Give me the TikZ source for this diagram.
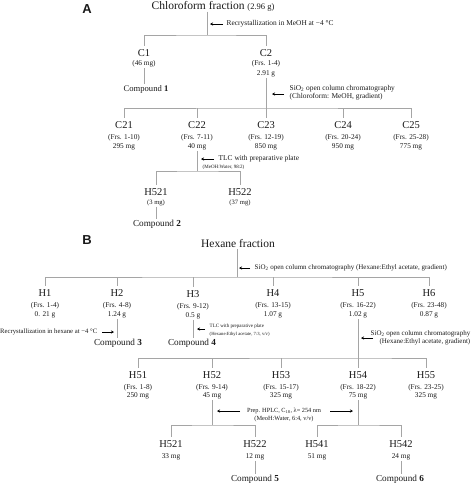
\documentclass[tikz,border=0pt]{standalone}
\usepackage{fontspec}
\setmainfont{Liberation Serif}
\newfontfamily\labfont{Liberation Sans}
\usetikzlibrary{arrows.meta}
\definecolor{linegray}{RGB}{165,165,165}
\definecolor{txt}{RGB}{25,25,25}
\begin{document}
\begin{tikzpicture}[x=1pt,y=-1pt,
  every node/.style={inner sep=0.5pt, text=txt},
  ttl/.style={font=\fontsize{11.5}{13}\selectfont},
  nm/.style={font=\fontsize{10.5}{12}\selectfont},
  dt/.style={font=\fontsize{7.3}{8}\selectfont},
  dts/.style={font=\fontsize{6.6}{7}\selectfont},
  cpd/.style={font=\fontsize{9.2}{10}\selectfont},
  ann/.style={font=\fontsize{7.4}{8}\selectfont, anchor=west, align=left},
  tinyann/.style={font=\fontsize{5}{6}\selectfont, anchor=west, align=left},
  pl/.style={font=\labfont\bfseries\fontsize{13}{14}\selectfont},
  ln/.style={draw=linegray, line width=0.7pt},
  ar/.style={draw=black, line width=0.6pt, -{Stealth[length=3pt,width=3pt]}},
]
\useasboundingbox (0,0) rectangle (472,485);

% ---------------- Panel A ----------------
\node[pl] (labA) at (87,9) {A};
\node[ttl] (chl) at (213,6) {Chloroform fraction {\fontsize{8.5}{9}\selectfont(2.96 g)}};
\coordinate (jA) at (207,35);
\draw[ln] (chl.south -| jA) -- (jA);
\node[ann] (recA) at (226,24) {Recrystallization in MeOH at −4 °C};
\coordinate (aAs) at (223,24);
\coordinate (aAe) at (210,24);
\draw[ar] (aAs) -- (aAe);

\node[nm] (C1) at (144,53) {C1};
\node[dt] (C1m) at (144,64) {(46 mg)};
\node[nm] (C2) at (266,53) {C2};
\node[dt] (C2f) at (266,64) {(Frs. 1-4)};
\node[dt] (C2m) at (266,74) {2.91 g};
\draw[ln] ([yshift=3pt]C1.north) |- (jA) -| ([yshift=3pt]C2.north);

\node[cpd, font=\fontsize{8.6}{10}\selectfont] (cp1) at (146,89) {Compound \textbf{1}};
\draw[ln] (C1m.south) -- (cp1.north -| C1m.south);

\coordinate (jB) at (266,108);
\draw[ln] (C2m.south) -- (jB);
\node[ann] (sioA) at (289,93) {SiO\textsubscript{2} open column chromatography\\(Chloroform: MeOH, gradient)};
\coordinate (aBs) at (284,94);
\coordinate (aBe) at (272,94);
\draw[ar] (aBs) -- (aBe);

\node[nm] (C21) at (124,125) {C21};
\node[dt] (C21f) at (124,138) {(Frs. 1-10)};
\node[dt] (C21m) at (124,147) {295 mg};
\node[nm] (C22) at (197,125) {C22};
\node[dt] (C22f) at (197,138) {(Frs. 7-11)};
\node[dt] (C22m) at (197,147) {40 mg};
\node[nm] (C23) at (266,125) {C23};
\node[dt] (C23f) at (266,138) {(Frs. 12-19)};
\node[dt] (C23m) at (266,147) {850 mg};
\node[nm] (C24) at (343,125) {C24};
\node[dt] (C24f) at (343,138) {(Frs. 20-24)};
\node[dt] (C24m) at (343,147) {950 mg};
\node[nm] (C25) at (411,125) {C25};
\node[dt] (C25f) at (411,138) {(Frs. 25-28)};
\node[dt] (C25m) at (411,147) {775 mg};
\draw[ln] ([yshift=3pt]C21.north) |- (jB) -| ([yshift=3pt]C25.north);
\draw[ln] (C22.north |- jB) -- ([yshift=3pt]C22.north);
\draw[ln] (C23.north |- jB) -- ([yshift=3pt]C23.north);
\draw[ln] (C24.north |- jB) -- ([yshift=3pt]C24.north);

\coordinate (jC) at (197,171);
\draw[ln] (C22m.south) -- (jC);
\node[ann] (tlcA) at (218,159) {TLC with preparative plate};
\node[tinyann] (tlcAb) at (202,167) {(MeOH:Water, 98:2)};
\coordinate (aCs) at (214,159);
\coordinate (aCe) at (201,159);
\draw[ar] (aCs) -- (aCe);

\node[nm] (A521) at (156,192) {H521};
\node[dts] (A521m) at (156,203) {(3 mg)};
\node[nm] (A522) at (240,192) {H522};
\node[dts] (A522m) at (240,203) {(37 mg)};
\draw[ln] ([yshift=3pt]A521.north) |- (jC) -| ([yshift=3pt]A522.north);
\node[cpd] (cp2) at (157,224) {Compound \textbf{2}};
\draw[ln] (A521m.south) -- (cp2.north -| A521m.south);

% ---------------- Panel B ----------------
\node[pl] (labB) at (87,240) {B};
\node[ttl] (hex) at (238,244) {Hexane fraction};
\coordinate (jD) at (237,277);
\draw[ln] (hex.south -| jD) -- (jD);
\node[ann, font=\fontsize{7}{8}\selectfont] (sioB) at (254,268) {SiO\textsubscript{2} open column chromatography (Hexane:Ethyl acetate, gradient)};
\coordinate (aDs) at (250,268);
\coordinate (aDe) at (239,268);
\draw[ar] (aDs) -- (aDe);

\node[nm] (H1) at (45,293) {H1};
\node[dt] (H1f) at (45,306) {(Frs. 1-4)};
\node[dt] (H1m) at (45,315) {0. 21 g};
\node[nm] (H2) at (117,293) {H2};
\node[dt] (H2f) at (117,306) {(Frs. 4-8)};
\node[dt] (H2m) at (117,315) {1.24 g};
\node[nm] (H3) at (193,294) {H3};
\node[dt] (H3f) at (193,307) {(Frs. 9-12)};
\node[dt] (H3m) at (193,316) {0.5 g};
\node[nm] (H4) at (273,293) {H4};
\node[dt] (H4f) at (273,306) {(Frs. 13-15)};
\node[dt] (H4m) at (273,315) {1.07 g};
\node[nm] (H5) at (358,293) {H5};
\node[dt] (H5f) at (358,306) {(Frs. 16-22)};
\node[dt] (H5m) at (358,315) {1.02 g};
\node[nm] (H6) at (429,293) {H6};
\node[dt] (H6f) at (429,306) {(Frs. 23-48)};
\node[dt] (H6m) at (429,315) {0.87 g};
\draw[ln] ([yshift=3pt]H1.north) |- (jD) -| ([yshift=3pt]H6.north);
\draw[ln] (H2.north |- jD) -- ([yshift=3pt]H2.north);
\draw[ln] (H3.north |- jD) -- ([yshift=3pt]H3.north);
\draw[ln] (H4.north |- jD) -- ([yshift=3pt]H4.north);
\draw[ln] (H5.north |- jD) -- ([yshift=3pt]H5.north);

% H2 -> compound 3
\node[cpd] (cp3) at (118,343) {Compound \textbf{3}};
\draw[ln] (H2m.south) -- (cp3.north -| H2m.south);
\node[anchor=east, font=\fontsize{6.7}{8}\selectfont] (recB) at (98,332) {Recrystallization in hexane at −4 °C};
\coordinate (aEs) at (102,332);
\coordinate (aEe) at (114,332);
\draw[ar] (aEs) -- (aEe);

% H3 -> compound 4
\node[cpd] (cp4) at (192,343) {Compound \textbf{4}};
\draw[ln] (H3m.south) -- (cp4.north -| H3m.south);
\node[tinyann, font=\fontsize{5}{8}\selectfont] (tlcB) at (209,330) {TLC with preparative plate\\{\fontsize{4.7}{5}\selectfont(Hexane:Ethyl acetate, 7:3, v/v)}};
\coordinate (aFs) at (205,329);
\coordinate (aFe) at (197,329);
\draw[ar] (aFs) -- (aFe);

% H5 -> H5x
\coordinate (jE) at (358,358);
\draw[ln] (H5m.south) -- (jE);
\node[anchor=east, align=right, font=\fontsize{7}{8}\selectfont] (sioC) at (471,338) {SiO\textsubscript{2} open column chromatography\\(Hexane:Ethyl acetate, gradient)};
\coordinate (aGs) at (373,338);
\coordinate (aGe) at (361,338);
\draw[ar] (aGs) -- (aGe);

\node[nm] (H51) at (138,375) {H51};
\node[dt] (H51f) at (138,388) {(Frs. 1-8)};
\node[dt] (H51m) at (138,396) {250 mg};
\node[nm] (H52) at (212,375) {H52};
\node[dt] (H52f) at (212,388) {(Frs. 9-14)};
\node[dt] (H52m) at (212,396) {45 mg};
\node[nm] (H53) at (281,375) {H53};
\node[dt] (H53f) at (281,388) {(Frs. 15-17)};
\node[dt] (H53m) at (281,396) {325 mg};
\node[nm] (H54) at (358,375) {H54};
\node[dt] (H54f) at (358,388) {(Frs. 18-22)};
\node[dt] (H54m) at (358,396) {75 mg};
\node[nm] (H55) at (426,375) {H55};
\node[dt] (H55f) at (426,388) {(Frs. 23-25)};
\node[dt] (H55m) at (426,396) {325 mg};
\draw[ln] ([yshift=3pt]H51.north) |- (jE) -| ([yshift=3pt]H55.north);
\draw[ln] (H52.north |- jE) -- ([yshift=3pt]H52.north);
\draw[ln] (H53.north |- jE) -- ([yshift=3pt]H53.north);
\draw[ln] (H54.north |- jE) -- ([yshift=3pt]H54.north);

% HPLC
\coordinate (jF) at (212,425);
\coordinate (jG) at (358,425);
\draw[ln] (H52m.south) -- (jF);
\draw[ln] (H54m.south) -- (jG);
\node[align=center, font=\fontsize{6.3}{8}\selectfont] (hplc) at (284,415) {Prep. HPLC, C\textsubscript{18}, λ= 254 nm\\(MeoH:Water, 6:4, v/v)};
\coordinate (aHs) at (240,411);
\coordinate (aHe) at (217,411);
\coordinate (aIs) at (330,411);
\coordinate (aIe) at (353,411);
\draw[ar] (aHs) -- (aHe);
\draw[ar] (aIs) -- (aIe);

\node[nm] (H521) at (171,444) {H521};
\node[dt] (H521m) at (171,457) {33 mg};
\node[nm] (H522) at (255,444) {H522};
\node[dt] (H522m) at (255,457) {12 mg};
\node[nm] (H541) at (317,444) {H541};
\node[dt] (H541m) at (317,457) {51 mg};
\node[nm] (H542) at (401,444) {H542};
\node[dt] (H542m) at (401,457) {24 mg};
\draw[ln] ([yshift=3pt]H521.north) |- (jF) -| ([yshift=3pt]H522.north);
\draw[ln] ([yshift=3pt]H541.north) |- (jG) -| ([yshift=3pt]H542.north);

\node[cpd] (cp5) at (255,479) {Compound \textbf{5}};
\draw[ln] (H522m.south) -- (cp5.north -| H522m.south);
\node[cpd] (cp6) at (400,479) {Compound \textbf{6}};
\draw[ln] (H542m.south) -- (cp6.north -| H542m.south);
\end{tikzpicture}
\end{document}
